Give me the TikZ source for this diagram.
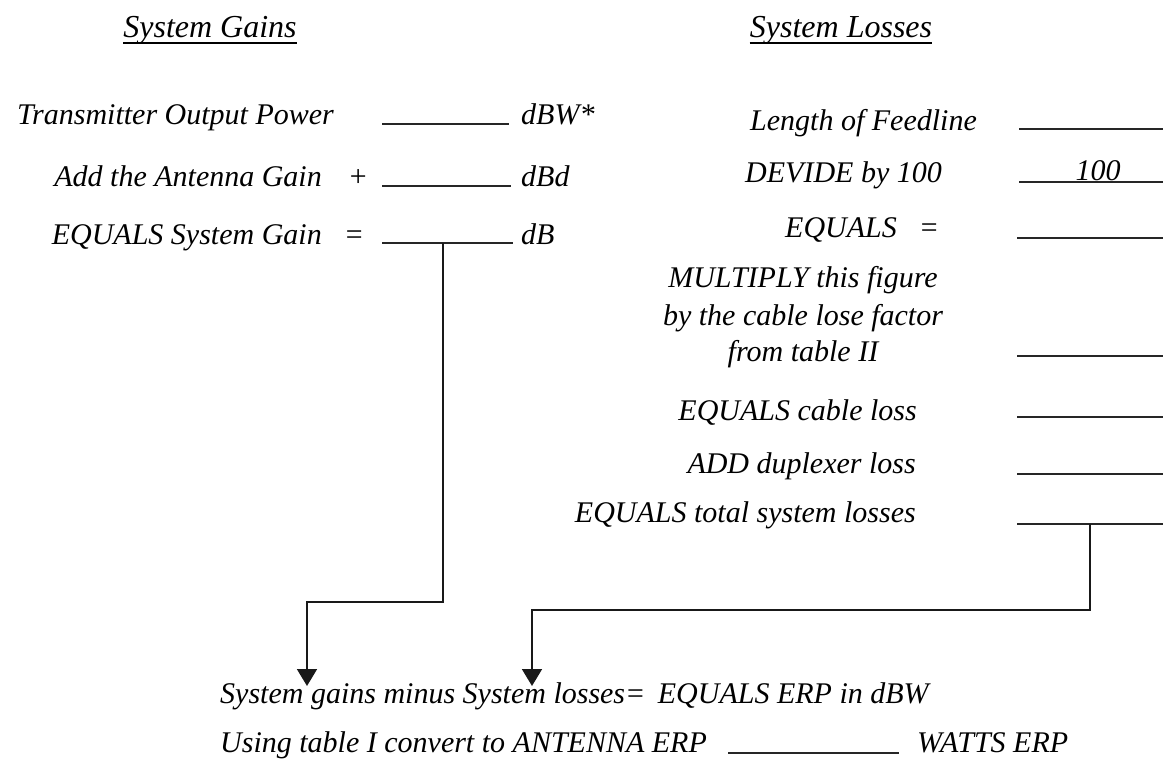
\documentclass[tikz,border=0pt]{standalone}
\usepackage{fontspec}
\setmainfont{Liberation Serif}
\usetikzlibrary{arrows.meta,calc}
\newcommand{\bodyfnt}{\fontsize{30}{36}\selectfont\itshape}
\newcommand{\headfnt}{\fontsize{32}{38}\selectfont\itshape}
\tikzset{
  txt/.style={font=\bodyfnt, inner sep=0pt, text=black},
  lft/.style={txt, anchor=base west},
  rgt/.style={txt, anchor=base east},
  ctr/.style={txt, anchor=base},
  head/.style={font=\headfnt, inner sep=0pt, anchor=base},
  uline/.style={line width=1.2pt},
  blank/.style={line width=1.8pt, draw=black!85},
  conn/.style={line width=1.8pt, draw=black!90},
  tip/.style={conn, -{Triangle[width=20pt,length=17pt]}},
}
\begin{document}
\begin{tikzpicture}[x=1pt,y=-1pt]
\useasboundingbox (0,0) rectangle (1163,763);
% headers
\node[head] (hg) at (210,37) {System Gains};
\node[head] (hl) at (841,37) {System Losses};
\draw[uline] ($(hg.base west)+(0,6)$) -- ($(hg.base east)+(0,6)$);
\draw[uline] ($(hl.base west)+(0,6)$) -- ($(hl.base east)+(0,6)$);
% left column
\node[lft] (t1) at (17,124) {Transmitter Output Power};
\node[rgt] (t2) at (322,186) {Add the Antenna Gain};
\node[ctr] (plus) at (358,186) {+};
\node[rgt] (t3) at (322,244) {EQUALS System Gain};
\node[ctr] (eq1) at (354,244) {=};
\coordinate (b1l) at (382,124); \coordinate (b1r) at (509,124);
\coordinate (b2l) at (382,186); \coordinate (b2r) at (511,186);
\coordinate (b3l) at (382,243); \coordinate (b3r) at (513,243);
\draw[blank] (b1l) -- (b1r);
\draw[blank] (b2l) -- (b2r);
\draw[blank] (b3l) -- (b3r);
\node[lft] (u1) at (521,124) {dBW*};
\node[lft] (u2) at (521,186) {dBd};
\node[lft] (u3) at (521,244) {dB};
% right column
\node[lft] (r1) at (750,130) {Length of Feedline};
\node[lft] (r2) at (745,182) {DEVIDE by 100};
\node[lft] (r3) at (785,237) {EQUALS};
\node[ctr] (eq2) at (929,237) {=};
\node[ctr] (r4a) at (803,287) {MULTIPLY this figure};
\node[ctr] (r4b) at (803,325) {by the cable lose factor};
\node[ctr] (r4c) at (803,361) {from table II};
\node[rgt] (r5) at (917,420) {EQUALS cable loss};
\node[rgt] (r6) at (916,473) {ADD duplexer loss};
\node[rgt] (r7) at (916,522) {EQUALS total system losses};
\coordinate (c1l) at (1019,129); \coordinate (c1r) at (1163,129);
\coordinate (c2l) at (1019,182); \coordinate (c2r) at (1163,182);
\coordinate (c3l) at (1017,238); \coordinate (c3r) at (1163,238);
\coordinate (c4l) at (1017,356); \coordinate (c4r) at (1163,356);
\coordinate (c5l) at (1017,417); \coordinate (c5r) at (1163,417);
\coordinate (c6l) at (1017,474); \coordinate (c6r) at (1163,474);
\coordinate (c7l) at (1017,524); \coordinate (c7r) at (1163,524);
\foreach \i in {1,...,7}{\draw[blank] (c\i l) -- (c\i r);}
\node[ctr] (hundred) at (1098,180) {100};
% bottom
\node[lft] (res) at (220,703) {System gains minus System losses=\, EQUALS ERP in dBW};
\node[lft] (conv) at (220,752) {Using table I convert to ANTENNA ERP};
\coordinate (wl) at (728,753); \coordinate (wr) at (899,753);
\draw[blank] (wl) -- (wr);
\node[lft] (watts) at (917,752) {WATTS ERP};
% connectors
\coordinate (gsrc) at (443,243);
\coordinate (gtip) at (307,686);
\coordinate (lsrc) at (1090,524);
\coordinate (ltip) at (532,686);
\draw[tip] (gsrc) -- (443,602) -| (gtip);
\draw[tip] (lsrc) -- (1090,610) -| (ltip);
\end{tikzpicture}
\end{document}
